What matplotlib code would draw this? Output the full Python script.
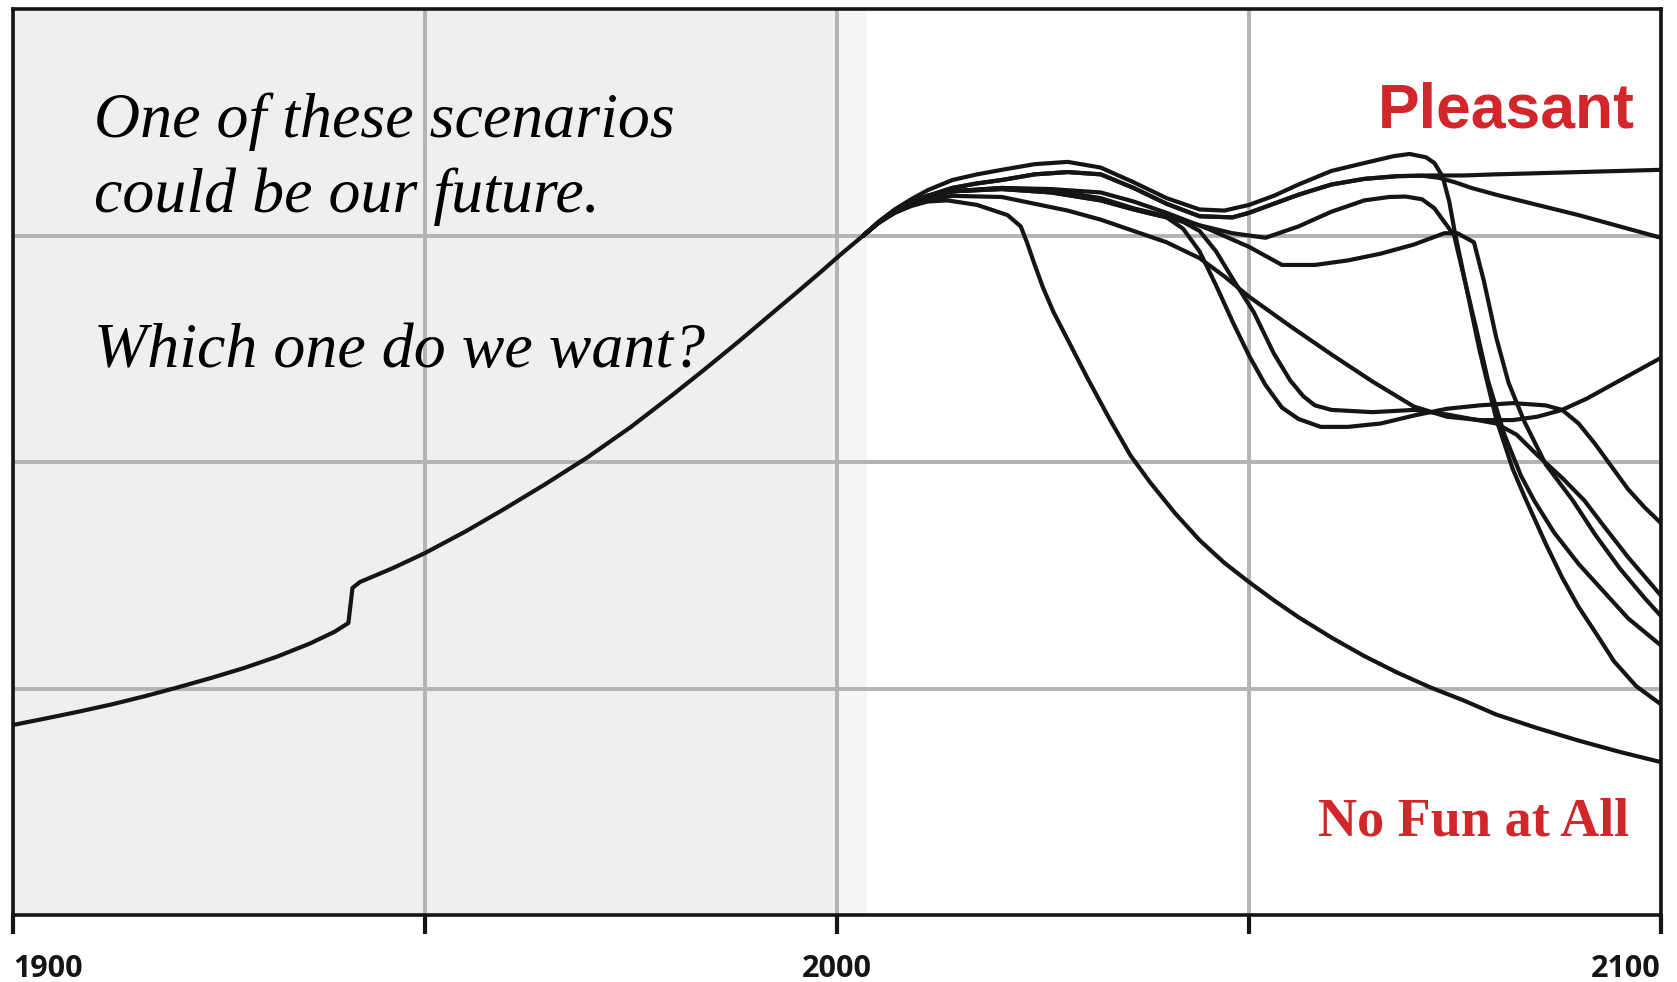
import matplotlib
matplotlib.use('agg')
import matplotlib.pyplot as plt

# history (1900 -> 2003)
hist_year = [1900, 1904, 1908, 1912, 1916, 1920, 1924, 1928, 1932, 1936, 1939, 1940.7, 1941.2,
             1942.1, 1946, 1950, 1955, 1959.5, 1964.5, 1969.7, 1975, 1980, 1983.8, 1988, 1991.9,
             1995, 1998, 2000.5, 2003.2]
hist_val = [0.839, 0.868, 0.898, 0.930, 0.966, 1.005, 1.046, 1.090, 1.140, 1.198, 1.250, 1.289, 1.444,
            1.47, 1.53, 1.598, 1.695, 1.79, 1.90, 2.02, 2.155, 2.295, 2.405, 2.53, 2.65,
            2.745, 2.838, 2.918, 3.0]

# scenarios (2003 -> 2100)
pleasant_year = [2003.2, 2005, 2007, 2009, 2011, 2014, 2017, 2020, 2024, 2028, 2032, 2036, 2040, 2044,
                 2048, 2050, 2053, 2056, 2060, 2064, 2068, 2072, 2076, 2080, 2085, 2090, 2095, 2100]
pleasant_val = [3.0, 3.055, 3.105, 3.145, 3.175, 3.21, 3.23, 3.245, 3.27, 3.28, 3.27, 3.21, 3.14, 3.085,
                3.08, 3.10, 3.14, 3.18, 3.225, 3.25, 3.262, 3.265, 3.265, 3.27, 3.275, 3.28, 3.285, 3.29]

slow_year = [2003.2, 2005, 2007, 2009, 2011, 2014, 2017, 2020, 2024, 2028, 2032, 2036, 2040, 2044,
             2048, 2050, 2053, 2056, 2060, 2064, 2068, 2071, 2073, 2075, 2077, 2080, 2085, 2090, 2095, 2100]
slow_val = [3.0, 3.055, 3.105, 3.145, 3.175, 3.21, 3.23, 3.245, 3.27, 3.28, 3.27, 3.21, 3.14, 3.085,
            3.08, 3.10, 3.14, 3.18, 3.225, 3.25, 3.262, 3.264, 3.255, 3.235, 3.21, 3.18, 3.135, 3.09, 3.04, 2.99]

hump1_year = [2003.2, 2005, 2007, 2009, 2011, 2014, 2017, 2020, 2024, 2028, 2032, 2036, 2040, 2044, 2047,
              2050, 2053, 2056, 2060, 2064, 2067.5, 2069.5, 2071.5, 2072.5, 2073.5, 2074.3, 2075,
              2076.5, 2078, 2080, 2082, 2083.4, 2086, 2088, 2090, 2092, 2094.3, 2097, 2100]
hump1_val = [3.0, 3.06, 3.115, 3.16, 3.20, 3.245, 3.27, 3.29, 3.315, 3.325, 3.30, 3.235, 3.165, 3.115, 3.11,
             3.135, 3.175, 3.225, 3.285, 3.32, 3.35, 3.36, 3.345, 3.32, 3.26, 3.15, 3.01,
             2.75, 2.49, 2.19, 1.97, 1.85, 1.64, 1.49, 1.36, 1.25, 1.12, 1.01, 0.93]

hump2_year = [2003.2, 2005, 2007, 2009, 2011, 2014, 2020, 2026, 2032, 2036, 2040, 2044, 2048, 2052, 2056,
              2060, 2064, 2067, 2069, 2071, 2072.5, 2073.5, 2074.9, 2076, 2077.5, 2079, 2081, 2083,
              2084.6, 2087, 2090, 2093, 2096, 2100]
hump2_val = [3.0, 3.055, 3.105, 3.145, 3.175, 3.195, 3.21, 3.20, 3.165, 3.12, 3.085, 3.045, 3.01, 2.99, 3.04,
             3.105, 3.155, 3.17, 3.172, 3.16, 3.12, 3.07, 3.0, 2.83, 2.6, 2.36, 2.12, 1.94,
             1.83, 1.69, 1.55, 1.43, 1.31, 1.19]

dip_year = [2003.2, 2005, 2007, 2009, 2011, 2014, 2020, 2026, 2032, 2036, 2040, 2045, 2050, 2054, 2058,
            2062, 2066, 2070, 2073.7, 2075.3, 2077.3, 2078.5, 2080, 2081.5, 2083.4, 2086, 2089.3,
            2092, 2095, 2098, 2100]
dip_val = [3.0, 3.055, 3.105, 3.145, 3.175, 3.195, 3.21, 3.205, 3.19, 3.15, 3.10, 3.03, 2.95, 2.87, 2.87,
           2.89, 2.92, 2.96, 3.01, 3.01, 2.97, 2.8, 2.55, 2.35, 2.18, 1.99, 1.83,
           1.68, 1.53, 1.40, 1.32]

plateau1_year = [2003.2, 2005, 2007, 2009, 2011, 2014, 2020, 2026, 2032, 2036, 2040, 2042, 2044, 2046,
                 2048, 2050.6, 2053, 2055, 2056.6, 2058, 2060, 2065, 2070, 2074, 2077, 2080,
                 2082.5, 2085, 2088, 2090.7, 2093, 2096, 2100]
plateau1_val = [3.0, 3.055, 3.105, 3.145, 3.175, 3.195, 3.205, 3.19, 3.155, 3.115, 3.08, 3.06, 3.02, 2.93,
                2.81, 2.66, 2.48, 2.36, 2.29, 2.25, 2.23, 2.22, 2.23, 2.21, 2.19, 2.17,
                2.12, 2.03, 1.93, 1.83, 1.72, 1.58, 1.41]

plateau2_year = [2003.2, 2005, 2007, 2009, 2011, 2014, 2020, 2026, 2032, 2036, 2040, 2042, 2044, 2046,
                 2048, 2050, 2052, 2054, 2056, 2058.7, 2062, 2066, 2070, 2074, 2078, 2082, 2086,
                 2088, 2090, 2092, 2094, 2096, 2098, 2100]
plateau2_val = [3.0, 3.055, 3.105, 3.145, 3.175, 3.195, 3.205, 3.19, 3.155, 3.115, 3.08, 3.03, 2.93, 2.78,
                2.62, 2.47, 2.34, 2.24, 2.19, 2.155, 2.155, 2.17, 2.205, 2.235, 2.25, 2.26, 2.25,
                2.23, 2.17, 2.08, 1.98, 1.88, 1.80, 1.73]

gradual_year = [2003.2, 2005, 2007, 2009, 2011, 2014, 2020, 2024, 2028, 2032, 2036, 2040, 2044, 2047, 2050,
                2055, 2060, 2065, 2070, 2074, 2078, 2082, 2085, 2088, 2091, 2094, 2097, 2100]
gradual_val = [3.0, 3.055, 3.10, 3.135, 3.16, 3.175, 3.17, 3.14, 3.11, 3.07, 3.02, 2.97, 2.90, 2.82, 2.73,
               2.60, 2.475, 2.355, 2.245, 2.2, 2.185, 2.185, 2.2, 2.23, 2.28, 2.34, 2.40, 2.46]

early_year = [2003.2, 2005, 2007, 2009, 2011, 2013.4, 2017, 2020.7, 2022.3, 2023.1, 2023.9, 2025, 2026.3,
              2028, 2030.4, 2033, 2035.6, 2038, 2041, 2044, 2047, 2050, 2053, 2056, 2060, 2064, 2068,
              2072, 2076, 2080, 2085, 2090, 2095, 2100]
early_val = [3.0, 3.055, 3.10, 3.13, 3.15, 3.155, 3.135, 3.09, 3.04, 2.965, 2.88, 2.77, 2.66,
             2.54, 2.37, 2.195, 2.03, 1.91, 1.775, 1.655, 1.555, 1.47, 1.39, 1.315, 1.225, 1.143, 1.07,
             1.005, 0.948, 0.885, 0.825, 0.77, 0.72, 0.675]

scenarios = [(pleasant_year, pleasant_val), (slow_year, slow_val), (hump1_year, hump1_val),
             (hump2_year, hump2_val), (dip_year, dip_val), (plateau1_year, plateau1_val),
             (plateau2_year, plateau2_val), (gradual_year, gradual_val), (early_year, early_val)]

tick_years = [1900, 1950, 2000, 2050, 2100]
tick_labels = ['1900', '', '2000', '', '2100']

RED = '#d2262a'
INK = '#151515'

fig = plt.figure(figsize=(16.77, 9.82), dpi=100)
ax = fig.add_axes([13/1677, 67/982, 1648/1677, 906/982])

# grey background for the past
ax.axvspan(1900, 2000, color='#efefef', lw=0, zorder=0)
ax.axvspan(2000, 2003.7, color='#f5f5f5', lw=0, zorder=0)

ax.plot(hist_year, hist_val, color=INK, lw=3.0, solid_joinstyle='round', zorder=3)
for yrs, vals in scenarios:
    ax.plot(yrs, vals, color=INK, lw=3.0, solid_joinstyle='round', solid_capstyle='round', zorder=3)

ax.set_xlim(1900, 2100)
ax.set_ylim(0, 4)
ax.set_xticks(tick_years)
ax.set_xticklabels(tick_labels)
ax.set_yticks([1, 2, 3])
ax.grid(True, color='#b3b3b3', lw=2.8)
ax.set_axisbelow(True)
ax.tick_params(axis='y', length=0, labelleft=False)
ax.tick_params(axis='x', direction='out', length=14, width=3, pad=14,
               labelsize=22, colors=INK)
for lab in ax.get_xticklabels():
    lab.set_family('Open Sans')
    lab.set_weight('bold')
labs = ax.get_xticklabels()
labs[0].set_ha('left')
labs[-1].set_ha('right')

for side in ['left', 'right', 'top', 'bottom']:
    ax.spines[side].set_linewidth(2.6)
    ax.spines[side].set_color(INK)
    ax.spines[side].set_zorder(4)

# annotations
serif_it = dict(family='Liberation Serif', style='italic', fontsize=46, color='black', va='baseline')
ax.text(1909.8, 3.435, 'One of these scenarios', **serif_it)
ax.text(1909.8, 3.104, 'could be our future.', **serif_it)
ax.text(1909.8, 2.42, 'Which one do we want?', **serif_it)

ax.text(2096.8, 3.475, 'Pleasant', family='Liberation Sans', weight='bold', fontsize=45,
        color=RED, ha='right', va='baseline')
ax.text(2096.1, 0.349, 'No Fun at All', family='Liberation Serif', weight='bold', fontsize=39,
        color=RED, ha='right', va='baseline')

fig.savefig('out.png', dpi=100)
